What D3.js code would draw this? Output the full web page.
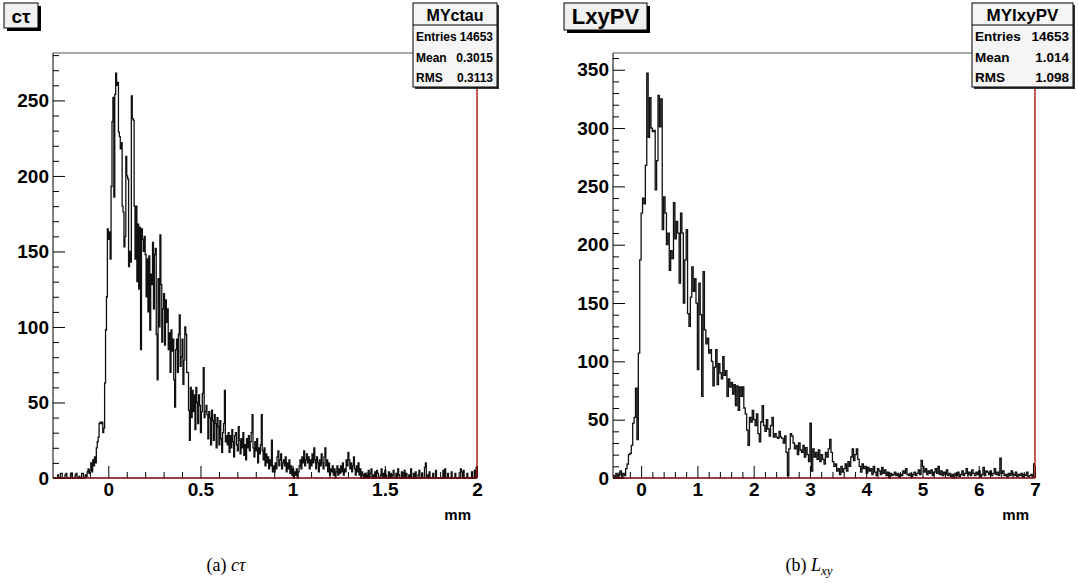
<!DOCTYPE html>
<html><head><meta charset="utf-8">
<script src="https://cdn.jsdelivr.net/npm/d3@7"></script>
<style>
body{margin:0;background:#fff;}
svg{display:block;font-family:"Liberation Sans",Arial,Helvetica,sans-serif;}
</style>
</head><body>
<svg id="chart" width="1078" height="587"></svg>
<script>
// ---- c*tau histogram (mm), 460 bins over [-0.3, 2] ----
const ctauRange = [-0.3, 2];
const ctauCounts = [
 0,0,0,0,0,2,0,0,3,3, 0,0,0,2,3,0,0,0,0,3, 3,0,0,0,2,3,0,0,1,0, 0,3,3,0,0,2,1,4,6,3,
 5,10,4,12,8,14,10,20,24,27, 36,37,36,37,30,33,63,98,120,165,
 158,163,145,193,236,252,186,254,268,260, 262,229,226,218,222,180,176,153,160,213,
 200,198,140,150,143,253,238,237,180,145, 180,130,168,125,166,85,165,158,150,160,
 148,120,145,110,147,98,135,128,156,112, 148,152,95,65,132,100,161,128,90,112,
 122,88,118,103,112,85,
 96,70,98,84,92,65,47,85,92,70, 95,108,74,80,92,62,78,100,95,70,
 70,45,25,60,40,58,44,55,32,60, 50,36,55,48,30,44,56,73,40,44, 48,
 42,26,44,40,22,45,38,25,42,36, 20,40,34,22,38,26,17,30,36,58, 24,28,
 22,30,17,28,20,32,24,14,28,30, 22,18,34,25,16,26,20,30,15,22, 12,26,20,28,18,24,30,42,20,14,
 24,18,26,10,20,16,22,42,18,12, 20,8,16,10,14,6,12,8,
 25,4,8,4,10,6,14,18,8,12, 16,6,10,12,8,14,4,10,6,12, 3,8,2,6,
 0,4,2,6,0,4,8,12,6,14, 10,18,8,12,16,10,14,6,12,8, 16,10,20,12,6,14,10,4,12,8,
 16,10,6,14,20,8,12,4,10,2, 6,4,8,2,6,0,4,8,2,6, 3,8,4,10,2,6,4,12,8,17,
 12,6,10,4,8,14,6,2,8,4, 10,2,6,0,4,2,0,
 3,0,2,0,5,0,3,6,0,2, 0,4,0,5,3,0,0,2,6,0, 3,0,5,2,0,0,4,0,3,0,
 2,5,0,0,3,0,6,2,0,0, 4,0,0,5,0,3,0,0,2,0, 6,0,0,3,0,4,0,0,2,5,
 0,0,3,0,0,7,10,0,2,0, 4,0,0,0,3,0,0,5,0,0, 0,0,0,0,0,5,0,6,0,0,
 3,0,0,0,4,0,0,0,3,0, 0,0,0,0,6,4,0,5,0,0, 0,3,0,0,0,0,4,0,0,5,
 0,7
];
const ctauXTicks = [0, 0.5, 1, 1.5, 2];
const ctauYTicks = [0, 50, 100, 150, 200, 250];
const ctauStatNames = ["Entries", "Mean", "RMS"];
const ctauStatValues = ["14653", "0.3015", "0.3113"];

// ---- Lxy histogram (mm), 300 bins over [-0.5, 7] ----
const lxyRange = [-0.5, 7];
const lxyCounts = [
 2,0,4,0,3,6,0,4,2,8, 12,20,21,28,47,52,77,33,107,187,
 227,240,235,268,347,292,326,300,297,298, 247,272,328,301,325,213,241,227,200,210,
 178,195,188,236,205,220,210,167,227,210, 150,187,213,141,130,155,181,160,171,150,
 93,167,140,70,177,127,115,120,107,110, 100,79,95,110,80,98,90,85,104,88,
 92,70,85,78,82,72,80,62,79,58, 78,70,78,60,55,41,28,52,48,58,
 50,45,55,38,31,48,62,45,40,50, 42,36,45,52,35,38,35,34,40,35,
 34,30,36,22,2,25,38,36,30,25, 28,20,30,24,22,28,18,26,20,14,
 47,6,25,18,22,16,24,14,20,16, 12,22,18,25,33,22,14,10,12,6,
 8,3,10,5,8,12,6,14,10,18, 25,15,20,25,16,10,5,12,8,10,
 4,9,6,8,3,10,5,2,8,6, 3,9,4,7,2,5,0,4,2,3,
 5,2,4,1,3,2,6,4,8,3, 2,4,1,3,5,2,4,7,3,15,
 10,5,8,3,6,4,7,2,5,8, 4,10,3,6,2,5,3,7,2,4,
 1,3,0,4,2,5,1,3,6,2, 4,8,3,5,2,7,4,2,5,3,
 6,1,3,9,2,6,5,3,6,2, 4,8,3,5,2,17,4,6,2,3,
 1,4,2,6,3,2,5,1,3,2, 4,1,3,2,5,1,2,3,1,12
];
const lxyXTicks = [0, 1, 2, 3, 4, 5, 6, 7];
const lxyYTicks = [0, 50, 100, 150, 200, 250, 300, 350];
const lxyStatNames = ["Entries", "Mean", "RMS"];
const lxyStatValues = ["14653", "1.014", "1.098"];

const svg = d3.select("#chart");

function drawPanel(opt) {
  const {counts, range, xTicks, yTicks, xMinorStep, yMinorStep, frame} = opt;
  const g = svg.append("g");
  const n = counts.length;
  const w = (range[1] - range[0]) / n;
  const yMax = 1.05 * d3.max(counts);

  const x = d3.scaleLinear().domain(range).range([frame.left, frame.right]);
  const y = d3.scaleLinear().domain([0, yMax]).range([frame.bottom, frame.top]);

  // minor tick positions
  const xMinor = d3.range(Math.ceil(range[0] / xMinorStep), Math.floor(range[1] / xMinorStep + 1e-9) + 1)
      .map(k => +(k * xMinorStep).toFixed(6)).filter(v => !xTicks.some(t => Math.abs(t - v) < 1e-6));
  const yMinor = d3.range(0, Math.floor(yMax / yMinorStep) + 1)
      .map(k => k * yMinorStep).filter(v => !yTicks.includes(v));

  // histogram outline as a step line
  const pts = counts.map((c, i) => [range[0] + i * w, c]);
  pts.push([range[1], counts[n - 1]]);
  const line = d3.line().x(d => x(d[0])).y(d => y(d[1])).curve(d3.curveStepAfter);
  g.append("path").attr("d", line(pts))
    .attr("fill", "none").attr("stroke", "#111").attr("stroke-width", 1.3);

  // axes
  const ax = g.append("g").attr("transform", `translate(0,${frame.bottom})`)
    .call(d3.axisBottom(x).tickValues(xTicks).tickSize(-12).tickSizeOuter(0).tickPadding(5)
      .tickFormat(d3.format("")));
  const axm = g.append("g").attr("transform", `translate(0,${frame.bottom})`)
    .call(d3.axisBottom(x).tickValues(xMinor).tickSize(-6).tickSizeOuter(0).tickFormat(""));
  const ay = g.append("g").attr("transform", `translate(${frame.left},0)`)
    .call(d3.axisLeft(y).tickValues(yTicks).tickSize(-12).tickSizeOuter(0).tickPadding(4));
  const aym = g.append("g").attr("transform", `translate(${frame.left},0)`)
    .call(d3.axisLeft(y).tickValues(yMinor).tickSize(-6).tickSizeOuter(0).tickFormat(""));
  [ax, axm, ay, aym].forEach(a => {
    a.select(".domain").remove();
    a.selectAll(".tick line").attr("stroke", "#000");
    a.selectAll("text").attr("font-family", "'Liberation Sans',Arial,sans-serif")
      .attr("font-weight", "bold").attr("font-size", 19).attr("fill", "#000");
  });

  // frame
  g.append("line").attr("x1", frame.left).attr("x2", frame.right).attr("y1", frame.top).attr("y2", frame.top)
    .attr("stroke", "#555");
  g.append("line").attr("x1", frame.left).attr("x2", frame.left).attr("y1", frame.top).attr("y2", frame.bottom)
    .attr("stroke", "#000");
  g.append("line").attr("x1", frame.right).attr("x2", frame.right).attr("y1", frame.top).attr("y2", frame.bottom)
    .attr("stroke", "#a00000").attr("stroke-width", 1.3);
  g.append("line").attr("x1", frame.left).attr("x2", frame.right).attr("y1", frame.bottom).attr("y2", frame.bottom)
    .attr("stroke", "#700000").attr("stroke-width", 1.5);

  // axis unit
  g.append("text").attr("x", frame.right - 6).attr("y", frame.bottom + 42).attr("text-anchor", "end")
    .attr("font-weight", "bold").attr("font-size", 15).text("mm");

  // title box
  const tb = opt.titleBox;
  g.append("rect").attr("x", tb.x + 3).attr("y", tb.y + 3).attr("width", tb.w).attr("height", tb.h).attr("fill", "#000");
  g.append("rect").attr("x", tb.x).attr("y", tb.y).attr("width", tb.w).attr("height", tb.h)
    .attr("fill", "#f0f0f0").attr("stroke", "#000");
  g.append("text").attr("x", tb.x + tb.w / 2).attr("y", tb.y + tb.h / 2 + 7).attr("text-anchor", "middle")
    .attr("font-weight", "bold").attr("font-size", tb.size).text(opt.title);

  // statistics box
  const sb = opt.statBox;
  g.append("rect").attr("x", sb.x + 2).attr("y", sb.y + 2).attr("width", sb.w).attr("height", sb.h).attr("fill", "#333");
  g.append("rect").attr("x", sb.x).attr("y", sb.y).attr("width", sb.w).attr("height", sb.h)
    .attr("fill", "#f5f5f5").attr("stroke", "#000");
  g.append("line").attr("x1", sb.x).attr("x2", sb.x + sb.w).attr("y1", sb.y + 22).attr("y2", sb.y + 22).attr("stroke", "#000");
  g.append("text").attr("x", sb.x + sb.w / 2).attr("y", sb.y + 18).attr("text-anchor", "middle")
    .attr("font-weight", "bold").attr("font-size", sb.titleSize).text(opt.name);
  opt.statNames.forEach((s, i) => {
    const by = sb.y + 38 + i * 20.5;
    g.append("text").attr("x", sb.x + 3).attr("y", by).attr("font-weight", "bold").attr("font-size", sb.size).text(s);
    g.append("text").attr("x", sb.x + sb.w - 4).attr("y", by).attr("text-anchor", "end")
      .attr("font-weight", "bold").attr("font-size", sb.size).text(opt.statValues[i]);
  });
}

drawPanel({
  counts: ctauCounts, range: ctauRange, xTicks: ctauXTicks, yTicks: ctauYTicks,
  xMinorStep: 0.1, yMinorStep: 10,
  frame: {left: 53, right: 477, top: 53, bottom: 478},
  title: "cτ", titleBox: {x: 4, y: 3, w: 34, h: 25, size: 19},
  name: "MYctau", statBox: {x: 413, y: 3, w: 84, h: 84, size: 12, titleSize: 16},
  statNames: ctauStatNames, statValues: ctauStatValues
});
drawPanel({
  counts: lxyCounts, range: lxyRange, xTicks: lxyXTicks, yTicks: lxyYTicks,
  xMinorStep: 0.2, yMinorStep: 10,
  frame: {left: 613, right: 1035, top: 53, bottom: 478},
  title: "LxyPV", titleBox: {x: 564, y: 3, w: 83, h: 27, size: 22},
  name: "MYlxyPV", statBox: {x: 972, y: 3, w: 101, h: 84, size: 13.5, titleSize: 17},
  statNames: lxyStatNames, statValues: lxyStatValues
});

// sub-figure captions
const cap = svg.append("g").attr("font-family", "'Liberation Serif','DejaVu Serif',serif").attr("font-size", 18);
const ca = cap.append("text").attr("x", 226).attr("y", 571).attr("text-anchor", "middle");
ca.append("tspan").text("(a)  ");
ca.append("tspan").attr("font-style", "italic").text("cτ");
const cb = cap.append("text").attr("x", 809).attr("y", 571).attr("text-anchor", "middle");
cb.append("tspan").text("(b)   ");
cb.append("tspan").attr("font-style", "italic").text("L");
cb.append("tspan").attr("font-style", "italic").attr("font-size", 13).attr("dy", 4).text("xy");
</script>
</body></html>
